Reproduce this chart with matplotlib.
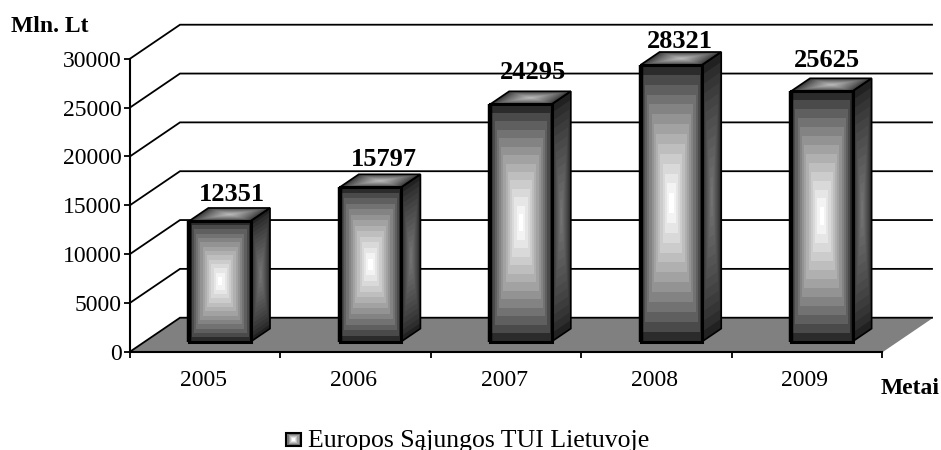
import numpy as np
import matplotlib
matplotlib.use('Agg')
import matplotlib.pyplot as plt
from matplotlib.patches import Polygon

plt.rcParams['font.family'] = ['Liberation Serif', 'DejaVu Serif']

# Data
years = ['2005', '2006', '2007', '2008', '2009']
values = [12351, 15797, 24295, 28321, 25625]
y_ticks = [0, 5000, 10000, 15000, 20000, 25000, 30000]
legend_label = 'Europos Sąjungos TUI Lietuvoje'

# fake 3D: one unit of depth moves this far in data coords
DEPTH_X = 0.3325
DEPTH_Y = 3480
BAR_WIDTH = 0.41
BAR_D0 = 0.30
BAR_D1 = 0.68

W, H = 941, 450
fig = plt.figure(figsize=(W / 100, H / 100), dpi=100)
ax = fig.add_axes([130 / W, 1 - 351.7 / H, 752 / W, 293 / H])
ax.set_xlim(0, 5)
ax.set_ylim(0, 30000)
ax.patch.set_visible(False)


def proj(x, y, d):
    return (x + d * DEPTH_X, y + d * DEPTH_Y)


def draw_face(target, corners, dark, light, steps=14, z=3):
    # stepped box gradient: nested quads from the rim to the centre
    corners = np.array(corners, dtype=float)
    centre = corners.mean(axis=0)
    for i in range(steps):
        t = i / steps
        quad = centre + (corners - centre) * (1 - t)
        g = dark + (light - dark) * (i / (steps - 1)) ** 0.75
        target.add_patch(Polygon(quad, closed=True, facecolor=str(g), edgecolor='none',
                                 zorder=z, clip_on=False))


# floor
ax.add_patch(Polygon([proj(0, 0, 0), proj(5, 0, 0), proj(5, 0, 1), proj(0, 0, 1)], closed=True,
                     facecolor='#808080', edgecolor='none', zorder=1, clip_on=False))

# grid lines: left wall diagonal and back wall
for v in y_ticks:
    p0 = proj(0, v, 0)
    p1 = proj(0, v, 1)
    p2 = proj(5, v, 1)
    ax.plot([p0[0], p1[0], p2[0]], [p0[1], p1[1], p2[1]], color='black', lw=1.3,
            zorder=2, clip_on=False, solid_joinstyle='miter')
# right edge of the floor
p0 = proj(5, 0, 0)
p1 = proj(5, 0, 1)
ax.plot([p0[0], p1[0]], [p0[1], p1[1]], color='#808080', lw=1, zorder=1, clip_on=False)

# bars
for i, v in enumerate(values):
    x0 = i + 0.5 - BAR_WIDTH / 2
    x1 = i + 0.5 + BAR_WIDTH / 2
    front = [proj(x0, 0, BAR_D0), proj(x1, 0, BAR_D0), proj(x1, v, BAR_D0), proj(x0, v, BAR_D0)]
    side = [proj(x1, 0, BAR_D0), proj(x1, 0, BAR_D1), proj(x1, v, BAR_D1), proj(x1, v, BAR_D0)]
    top = [proj(x0, v, BAR_D0), proj(x1, v, BAR_D0), proj(x1, v, BAR_D1), proj(x0, v, BAR_D1)]
    draw_face(ax, side, 0.13, 0.45, z=3)
    draw_face(ax, top, 0.2, 0.72, z=3)
    draw_face(ax, front, 0.17, 1.0, z=3)
    for quad, lw in [(side, 1.2), (top, 1.2), (front, 2.2)]:
        ax.add_patch(Polygon(quad, closed=True, fill=False, edgecolor='black', lw=lw,
                             zorder=4, clip_on=False, joinstyle='miter'))
    # thick left edge of the front face
    ax.plot([front[0][0], front[3][0]], [front[0][1], front[3][1]], color='black', lw=3.2,
            zorder=4, clip_on=False, solid_capstyle='butt')

# value labels, nudged by hand (points) from the bar's rear top edge
label_nudge = [(8.6, 5.3), (9.7, 6.0), (8.6, 8.6), (5.8, 2.9), (3.6, 8.0)]
for i, v in enumerate(values):
    lx = proj(i + 0.5, v, BAR_D0)[0]
    ly = proj(i + 0.5, v, BAR_D1)[1]
    ax.annotate(str(v), (lx, ly), xytext=label_nudge[i], textcoords='offset points',
                ha='center', va='baseline', fontsize=19, fontweight='bold', zorder=6,
                annotation_clip=False)

# axes
for s in ['top', 'right']:
    ax.spines[s].set_visible(False)
for s in ['left', 'bottom']:
    ax.spines[s].set_linewidth(1.5)
    ax.spines[s].set_zorder(5)
ax.set_yticks(y_ticks)
ax.set_xticks(range(6))
ax.set_xticklabels([])
ax.set_xticks(np.arange(5) + 0.5 - 0.013, labels=years, minor=True)
ax.tick_params(axis='x', which='major', length=4, width=1.3)
ax.tick_params(axis='x', which='minor', length=0, pad=13, labelsize=17)
ax.tick_params(axis='y', length=4, width=1.3, pad=2, labelsize=17)

# axis titles
fig.text(11 / W, 1 - 27 / H, 'Mln. Lt', fontsize=17, fontweight='bold', va='center', ha='left')
fig.text(881 / W, 1 - 389 / H, 'Metai', fontsize=17, fontweight='bold', va='center', ha='left')

# legend
leg_ax = fig.add_axes([286 / W, 1 - 446 / H, 15 / W, 13 / H])
leg_ax.set_xlim(0, 1)
leg_ax.set_ylim(0, 1)
leg_ax.axis('off')
draw_face(leg_ax, [(0, 0), (1, 0), (1, 1), (0, 1)], 0.25, 1.0, steps=6)
leg_ax.add_patch(Polygon([(0, 0), (1, 0), (1, 1), (0, 1)], closed=True, fill=False,
                         edgecolor='black', lw=1.5, zorder=4, clip_on=False))
fig.text(308 / W, 1 - 446.5 / H, legend_label, fontsize=18.5, va='baseline', ha='left')

fig.savefig('out.png', dpi=100)
